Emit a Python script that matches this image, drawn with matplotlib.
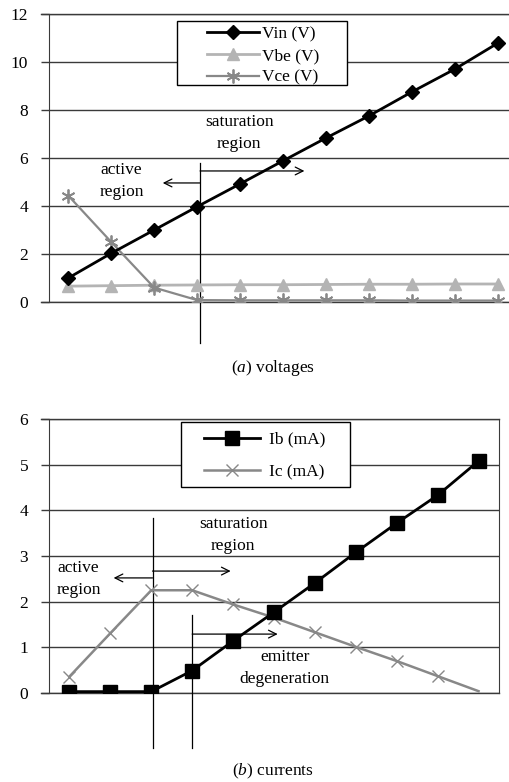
import numpy as np
import matplotlib
matplotlib.use('Agg')
import matplotlib.pyplot as plt
from matplotlib.patches import Rectangle

plt.rcParams['font.family'] = ['Liberation Serif', 'DejaVu Serif']
plt.rcParams['font.size'] = 12.5
plt.rcParams['mathtext.fontset'] = 'custom'
plt.rcParams['mathtext.rm'] = 'Liberation Serif'
plt.rcParams['mathtext.it'] = 'Liberation Serif:italic'

# (a) voltages
steps = list(range(1, 12))
vin = [1.0, 2.03, 3.0, 3.97, 4.92, 5.88, 6.83, 7.75, 8.75, 9.7, 10.78]
vbe = [0.66, 0.68, 0.7, 0.71, 0.72, 0.72, 0.73, 0.74, 0.74, 0.75, 0.75]
vce = [4.43, 2.5, 0.6, 0.08, 0.07, 0.07, 0.07, 0.07, 0.06, 0.06, 0.06]
v_ticks = [0, 2, 4, 6, 8, 10, 12]

# (b) currents
ib = [0.03, 0.03, 0.03, 0.49, 1.14, 1.77, 2.41, 3.08, 3.72, 4.33, 5.08]
ic = [0.36, 1.31, 2.25, 2.25, 1.94, 1.65, 1.33, 1.01, 0.7, 0.37, 0.04]
i_ticks = [0, 1, 2, 3, 4, 5, 6]

grid_col = '#3a3a3a'
light = '#b4b4b4'
mid = '#888888'

W, H = 509, 782
fig = plt.figure(figsize=(W / 100, H / 100), dpi=100)


def style_axes(ax, ticks):
    ax.set_yticks(ticks)
    ax.set_ylim(ticks[0], ticks[-1])
    ax.set_xticks([])
    ax.yaxis.grid(True, color=grid_col, lw=1.0)
    ax.set_axisbelow(True)
    ax.tick_params(axis='y', length=6, width=1.0, color=grid_col, pad=9)
    for s in ['top', 'bottom']:
        ax.spines[s].set_visible(False)
    ax.spines['left'].set_color(grid_col)
    ax.spines['right'].set_color(grid_col)


def arrow(ax, x0, x1, y):
    ax.annotate('', xy=(x1, y), xytext=(x0, y), annotation_clip=False,
                arrowprops=dict(arrowstyle='->', lw=0.9, color='black',
                                shrinkA=0, shrinkB=0, mutation_scale=14))


def legend_box(ax, x0, y0, x1, y1, handle_x, mid_y, **kw):
    # frame drawn by hand so the padding matches the original
    ax.add_patch(Rectangle((x0, y0), x1 - x0, y1 - y0, transform=fig.transFigure,
                           facecolor='white', edgecolor='black', lw=1.0,
                           zorder=6, clip_on=False))
    leg = ax.legend(loc='center left', bbox_to_anchor=(handle_x, mid_y),
                    bbox_transform=fig.transFigure, borderaxespad=0, borderpad=0,
                    frameon=False, **kw)
    leg.set_zorder(7)
    return leg


# ---- top chart ----
ax1 = fig.add_axes([49 / W, 1 - 302 / H, 470 / W, 288 / H])
ax1.set_xlim(0.55, 11.5)
style_axes(ax1, v_ticks)
ax1.spines['right'].set_visible(False)
ax1.axhline(0, xmin=-0.018, color=grid_col, lw=1.0, clip_on=False)
ax1.axhline(12, xmin=-0.018, color=grid_col, lw=1.0, clip_on=False)

ax1.plot(steps, vin, color='black', lw=2, marker='D', ms=7, label='Vin (V)', zorder=5)
ax1.plot(steps, vbe, color=light, lw=2, marker='^', ms=8, label='Vbe (V)', zorder=3)
ax1.plot(steps, vce, color=mid, lw=1.6, marker=(6, 2, 0), ms=10, mew=1.3,
         label='Vce (V)', zorder=4)

ax1.plot([4.07, 4.07], [5.8, -1.7], color='black', lw=0.9, clip_on=False)
arrow(ax1, 4.07, 3.2, 4.96)
arrow(ax1, 4.07, 6.5, 5.46)
ax1.text(4.98, 7.05, 'saturation\nregion', ha='center', va='center', linespacing=1.5)
ax1.text(2.24, 5.05, 'active\nregion', ha='center', va='center', linespacing=1.5)

legend_box(ax1, 177 / W, 1 - 85 / H, 347 / W, 1 - 21 / H, 207 / W, 1 - 56 / H,
           handlelength=3.0, handletextpad=0.15, labelspacing=0.32, fontsize=12.5)

fig.text(273 / W, 1 - 368 / H, r'($\mathit{a}$) voltages', ha='center', va='center')

# ---- bottom chart ----
ax2 = fig.add_axes([49 / W, 1 - 693 / H, 450 / W, 274 / H])
ax2.set_xlim(0.5, 11.5)
style_axes(ax2, i_ticks)
ax2.axhline(0, xmin=-0.018, color=grid_col, lw=1.0, clip_on=False)
ax2.axhline(6, xmin=-0.018, color=grid_col, lw=1.0, clip_on=False)

ax2.plot(steps, ib, color='black', lw=2, marker='s', ms=10, label='Ib (mA)', zorder=5)
ax2.plot(steps, ic, color=mid, lw=1.8, marker='x', ms=9, mew=1.0,
         markevery=list(range(10)), label='Ic (mA)', zorder=4)

ax2.plot([3.03, 3.03], [3.83, -1.2], color='black', lw=0.9, clip_on=False)
ax2.plot([4.0, 4.0], [1.7, -1.2], color='black', lw=0.9, clip_on=False)
arrow(ax2, 3.03, 2.08, 2.52)
arrow(ax2, 3.03, 4.94, 2.67)
arrow(ax2, 4.0, 6.09, 1.29)
ax2.text(5.0, 3.45, 'saturation\nregion', ha='center', va='center', linespacing=1.5)
ax2.text(1.22, 2.5, 'active\nregion', ha='center', va='center', linespacing=1.5)
ax2.text(6.26, 0.54, 'emitter\ndegeneration', ha='center', va='center', linespacing=1.5)

legend_box(ax2, 181 / W, 1 - 487 / H, 350 / W, 1 - 422 / H, 204 / W, 1 - 456 / H,
           handlelength=3.2, handletextpad=0.55, labelspacing=0.95, fontsize=12.5)

fig.text(273 / W, 1 - 771 / H, r'($\mathit{b}$) currents', ha='center', va='center')

fig.savefig('out.png', dpi=100)
